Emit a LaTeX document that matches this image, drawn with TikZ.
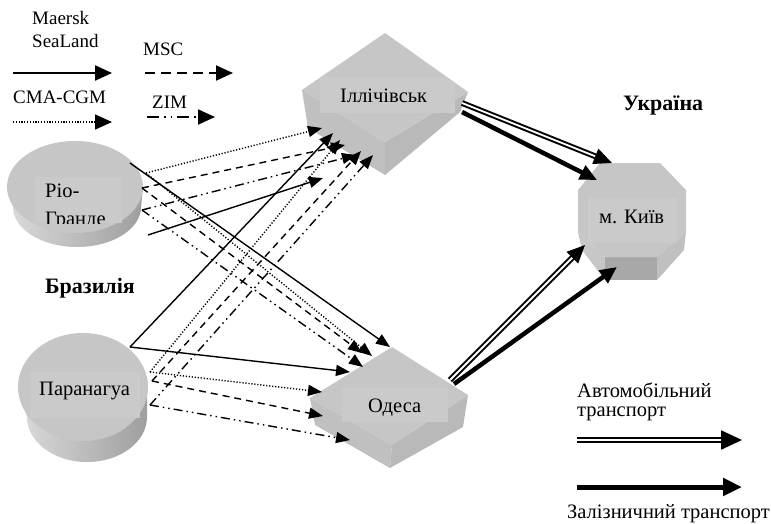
\documentclass[tikz,border=0pt]{standalone}
\usepackage{fontspec}
\setmainfont{Liberation Serif}
\usetikzlibrary{arrows.meta}
\definecolor{topg}{HTML}{C6C6C6}
\definecolor{labg}{HTML}{CACACA}
\definecolor{sidel}{HTML}{C0C0C0}
\definecolor{sider}{HTML}{B9B9B9}
\definecolor{kfront}{HTML}{A8A8A8}
\tikzset{
  lbl/.style={font=\fontsize{19}{21}\selectfont, inner sep=0pt, anchor=base west},
  clbl/.style={lbl, font=\fontsize{20.5}{22}\selectfont},
  blbl/.style={lbl, font=\fontsize{22}{24}\selectfont\bfseries},
  conn/.style={line width=1.4pt, -{Triangle[length=14pt,width=11pt]}},
  solidc/.style={conn},
  dotc/.style={conn, dash pattern=on 1.2pt off 1.8pt},
  dashc/.style={conn, dash pattern=on 7pt off 5pt},
  ddc/.style={conn, dash pattern=on 9pt off 4pt on 1.5pt off 4pt on 1.5pt off 4pt},
  lgd/.style={line width=2.4pt, -{Triangle[length=17pt,width=15pt]}},
  road/.style={double, double distance=2pt, line width=2.2pt, -{Triangle[length=21pt,width=19pt]}},
  rail/.style={line width=5pt, -{Triangle[length=19pt,width=17pt]}},
  maproad/.style={double, double distance=1.8pt, line width=2pt, -{Triangle[length=18pt,width=16pt]}},
  maprail/.style={line width=4.5pt, -{Triangle[length=17pt,width=15pt]}},
  cylside/.style={left color=white!86!black, middle color=white!90!black, right color=white!62!black}
}
\begin{document}
\begin{tikzpicture}[x=1pt,y=-1pt]
\useasboundingbox (0,0) rectangle (771,523);
\fill[white] (0,0) rectangle (771,523);

% ---------- legend (carriers) ----------
\node[lbl] (maersk) at (32,24) {Maersk};
\node[lbl] (sealand) at (32,47) {SeaLand};
\node[lbl] (msc) at (143,55) {MSC};
\node[lbl] (cma) at (13,103) {CMA-CGM};
\node[lbl] (zim) at (152,108) {ZIM};
\coordinate (la1) at (13,73);  \coordinate (la2) at (112,73);
\coordinate (lb1) at (145,73); \coordinate (lb2) at (233,73);
\coordinate (lc1) at (13,122); \coordinate (lc2) at (112,122);
\coordinate (ld1) at (147,117);\coordinate (ld2) at (215,117);
\draw[lgd] (la1) -- (la2);
\draw[lgd, line width=2pt, dash pattern=on 10pt off 6pt] (lb1) -- (lb2);
\draw[lgd, line width=1.5pt, dash pattern=on 1.2pt off 1.6pt] (lc1) -- (lc2);
\draw[lgd, line width=2pt, dash pattern=on 12pt off 5pt on 1.5pt off 5pt on 1.5pt off 5pt] (ld1) -- (ld2);

% ---------- Rio Grande cylinder ----------
\shade[cylside] (7,187) -- (13,207) arc[start angle=180,end angle=360,x radius=64pt,y radius=40pt] -- (143,187) -- cycle;
\fill[topg] (75,187) ellipse[x radius=68pt, y radius=46pt];
\begin{scope}
  \clip (35,177) rectangle (122,223);
  \fill[labg] (35,177) rectangle (122,223);
  \node[clbl] (rio) at (45,197) {Ріо-};
  \node[clbl] (rio2) at (45,225) {Гранде};
\end{scope}
\node[blbl] (brazil) at (45,293) {Бразилія};

% ---------- Paranagua cylinder ----------
\shade[cylside] (18,387) -- (27,417) arc[start angle=180,end angle=360,x radius=60pt,y radius=45pt] -- (147,387) -- cycle;
\fill[topg] (83,387) ellipse[x radius=65pt, y radius=54pt];
\fill[labg] (30,372) rectangle (140,418);
\node[clbl] (par) at (39,395) {Паранагуа};

% ---------- Illichivsk box ----------
\fill[sidel] (302,90) -- (385,142) -- (385,175) -- (308,128) -- cycle;
\fill[sider] (385,142) -- (468,92) -- (460,112) -- (385,175) -- cycle;
\fill[topg] (385,33) -- (468,92) -- (385,142) -- (302,90) -- cycle;
\begin{scope}
  \clip (385,33) -- (468,92) -- (460,112) -- (385,175) -- (308,128) -- (302,90) -- cycle;
  \fill[labg] (320,77) rectangle (455,113);
\end{scope}
\node[clbl] (ill) at (340,102) {Іллічівськ};

% ---------- Odesa box ----------
\fill[sidel] (310,398) -- (392,445) -- (390,468) -- (315,425) -- cycle;
\fill[sider] (392,445) -- (468,395) -- (463,427) -- (390,468) -- cycle;
\fill[topg] (392,347) -- (468,395) -- (392,445) -- (310,398) -- cycle;
\begin{scope}
  \clip (392,347) -- (468,395) -- (463,427) -- (390,468) -- (315,425) -- (310,398) -- cycle;
  \fill[labg] (342,388) rectangle (448,422);
\end{scope}
\node[clbl] (od) at (368,412) {Одеса};

% ---------- Kyiv octagon ----------
\fill[white!78!black] (578,232) -- (605,257) -- (605,280) -- (582,250) -- cycle;
\fill[sidel] (686,232) -- (657,257) -- (657,280) -- (684,250) -- cycle;
\fill[kfront] (605,257) rectangle (657,280);
\fill[topg] (600,163) -- (660,163) -- (686,190) -- (686,232) -- (657,257) -- (605,257) -- (578,232) -- (578,190) -- cycle;
\fill[labg] (588,198) rectangle (677,243);
\node[clbl] (kyiv) at (599,223) {м. Київ};
\node[blbl] (ukr) at (623,110) {Україна};

% ---------- sea routes: start points ----------
\coordinate (rS1) at (130,163); \coordinate (rS2) at (148,235);
\coordinate (rDot) at (146,173); \coordinate (rDash) at (142,188); \coordinate (rDD) at (142,210);
\coordinate (pS) at (130,347); \coordinate (pDot) at (150,372);
\coordinate (pDash) at (152,381); \coordinate (pDD) at (150,405);
% Illichivsk tips
\coordinate (iA) at (322,128); \coordinate (iB) at (333,133); \coordinate (iC) at (345,145);
\coordinate (iC2) at (340,140); \coordinate (iD) at (356,155); \coordinate (iD2) at (361,151);
\coordinate (iE) at (373,155); \coordinate (iF) at (323,178);
% Odesa tips
\coordinate (oA) at (390,347); \coordinate (oB) at (372,356); \coordinate (oC) at (362,353);
\coordinate (oD) at (363,367); \coordinate (oE) at (350,372); \coordinate (oF) at (322,392);
\coordinate (oG) at (323,416); \coordinate (oH) at (350,440);

% Rio Grande routes
\draw[solidc] (rS2) -- (iF);
\draw[solidc] (rS1) -- (oA);
\draw[dotc] (rDot) -- (iA);
\draw[dotc] (rDot) -- (oB);
\draw[dashc] (rDash) -- (iC);
\draw[dashc] (rDash) -- (oC);
\draw[ddc] (rDD) -- (iD);
\draw[ddc] (rDD) -- (oD);
% Paranagua routes
\draw[solidc] (pS) -- (iB);
\draw[solidc] (pS) -- (oE);
\draw[dotc] (pDot) -- (iC2);
\draw[dotc] (pDot) -- (oF);
\draw[dashc] (pDash) -- (iD2);
\draw[dashc] (pDash) -- (oG);
\draw[ddc] (pDD) -- (iE);
\draw[ddc] (pDD) -- (oH);

% ---------- land routes ----------
\coordinate (ilR1) at (462,103); \coordinate (ilR2) at (462,112);
\coordinate (kR1) at (612,163); \coordinate (kR2) at (597,180);
\coordinate (odR1) at (450,380); \coordinate (odR2) at (454,384);
\coordinate (kR3) at (585,245); \coordinate (kR4) at (617,267);
\draw[maproad] (ilR1) -- (kR1);
\draw[maprail] (ilR2) -- (kR2);
\draw[maproad] (odR1) -- (kR3);
\draw[maprail] (odR2) -- (kR4);

% ---------- legend (transport) ----------
\node[clbl] (auto1) at (577,397) {Автомобільний};
\node[clbl] (auto2) at (577,416) {транспорт};
\coordinate (lr1) at (577,440); \coordinate (lr2) at (742,440);
\coordinate (lt1) at (577,487); \coordinate (lt2) at (742,487);
\draw[road] (lr1) -- (lr2);
\draw[rail] (lt1) -- (lt2);
\node[clbl] (railtxt) at (567,518) {Залізничний транспорт};
\end{tikzpicture}
\end{document}
